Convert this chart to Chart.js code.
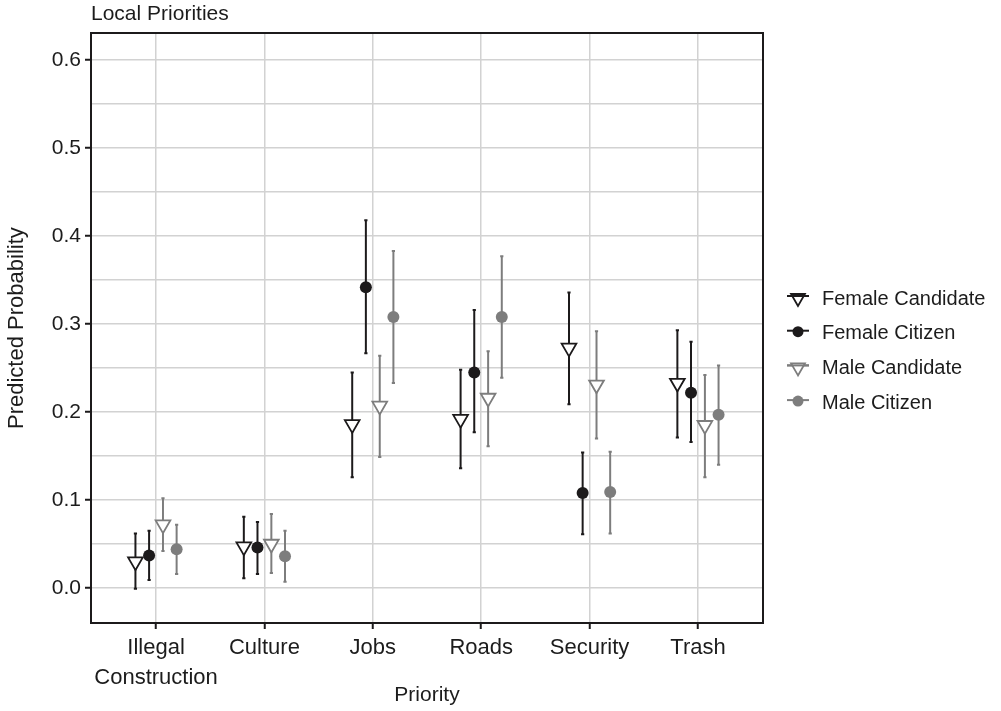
<!DOCTYPE html>
<html>
<head>
<meta charset="utf-8">
<script src="https://cdn.jsdelivr.net/npm/chart.js@4/dist/chart.umd.min.js"></script>
<style>
  html, body { margin: 0; padding: 0; background: #ffffff; }
  #wrap { width: 1001px; height: 711px; }
</style>
</head>
<body>
<div id="wrap"><canvas id="c" width="1001" height="711"></canvas></div>
<script>
// ---- data ----
const categories = [['Illegal', 'Construction'], 'Culture', 'Jobs', 'Roads', 'Security', 'Trash'];
const seriesNames = ['Female Candidate', 'Female Citizen', 'Male Candidate', 'Male Citizen'];

const femaleCandidate   = [0.030, 0.047, 0.186, 0.192, 0.273, 0.233];
const femaleCandidateLo = [-0.001, 0.011, 0.126, 0.136, 0.209, 0.171];
const femaleCandidateHi = [0.062, 0.081, 0.245, 0.248, 0.336, 0.293];

const femaleCitizen   = [0.037, 0.046, 0.342, 0.245, 0.108, 0.222];
const femaleCitizenLo = [0.009, 0.016, 0.267, 0.177, 0.061, 0.166];
const femaleCitizenHi = [0.065, 0.075, 0.418, 0.316, 0.154, 0.280];

const maleCandidate   = [0.072, 0.050, 0.207, 0.216, 0.231, 0.185];
const maleCandidateLo = [0.042, 0.017, 0.149, 0.161, 0.170, 0.126];
const maleCandidateHi = [0.102, 0.084, 0.264, 0.269, 0.292, 0.242];

const maleCitizen   = [0.044, 0.036, 0.308, 0.308, 0.109, 0.197];
const maleCitizenLo = [0.016, 0.007, 0.233, 0.239, 0.062, 0.140];
const maleCitizenHi = [0.072, 0.065, 0.383, 0.377, 0.155, 0.253];

const yTickValues = [0.0, 0.1, 0.2, 0.3, 0.4, 0.5, 0.6];
const yTickLabels = ['0.0', '0.1', '0.2', '0.3', '0.4', '0.5', '0.6'];
const yMinorValues = [0.05, 0.15, 0.25, 0.35, 0.45, 0.55];

// ---- styling ----
const FONT = "'Liberation Sans', Arial, Helvetica, sans-serif";
const INK = '#1c1c1c';
const BLACK = '#1c1a1b';
const GREY = '#7d7d7d';
const GRID = '#d2d2d2';
const dodge = [-0.19, -0.064, 0.064, 0.19];

function points(vals, k) {
  return vals.map((v, i) => ({ x: i + 1 + dodge[k], y: v }));
}
function ranges(lo, hi, k) {
  const out = [];
  lo.forEach((l, i) => {
    const x = i + 1 + dodge[k];
    out.push({ x: x, y: l }, { x: x, y: hi[i] }, { x: x, y: null });
  });
  return out;
}

const styles = [
  { color: BLACK, shape: 'triangle' },
  { color: BLACK, shape: 'circle' },
  { color: GREY, shape: 'triangle' },
  { color: GREY, shape: 'circle' }
];
const values = [femaleCandidate, femaleCitizen, maleCandidate, maleCitizen];
const lows = [femaleCandidateLo, femaleCitizenLo, maleCandidateLo, maleCitizenLo];
const highs = [femaleCandidateHi, femaleCitizenHi, maleCandidateHi, maleCitizenHi];

function drawKey(g, st, cx, cy) {
  g.save();
  g.strokeStyle = st.color; g.lineWidth = 2;
  const line = () => { g.beginPath(); g.moveTo(cx - 11, cy - 2); g.lineTo(cx + 11, cy - 2); g.stroke(); };
  line();
  if (st.shape === 'triangle') {
    const r = 8, ty = cy;
    g.fillStyle = '#fff'; g.lineWidth = 1.8;
    g.beginPath();
    g.moveTo(cx, ty + r);
    g.lineTo(cx - r * Math.sin(Math.PI / 3), ty - r / 2);
    g.lineTo(cx + r * Math.sin(Math.PI / 3), ty - r / 2);
    g.closePath(); g.fill(); g.stroke();
    g.lineWidth = 2; line();
  } else {
    g.fillStyle = st.color;
    g.beginPath(); g.arc(cx, cy - 1, 5.5, 0, Math.PI * 2); g.fill();
  }
  g.restore();
}

const keyLegend = {
  id: 'keyLegend',
  afterDraw(chart) {
    const g = chart.ctx;
    const a = chart.chartArea;
    const sx = a.right + 35, tx = a.right + 59;
    const y0 = 298, step = 34.7;
    g.save();
    g.font = '20px ' + FONT;
    g.fillStyle = INK;
    g.textBaseline = 'middle';
    g.textAlign = 'left';
    seriesNames.forEach((n, k) => {
      const y = y0 + k * step;
      drawKey(g, styles[k], sx, y);
      g.fillText(n, tx, y + 1);
    });
    g.restore();
  }
};

const datasets = [];
values.forEach((vals, k) => {
  const st = styles[k];
  datasets.push({
    type: 'scatter',
    label: seriesNames[k],
    data: points(vals, k),
    pointStyle: st.shape,
    rotation: st.shape === 'triangle' ? 180 : 0,
    pointRadius: st.shape === 'triangle' ? 8.5 : 6,
    pointBackgroundColor: st.shape === 'triangle' ? '#ffffff' : st.color,
    pointBorderColor: st.color,
    pointBorderWidth: st.shape === 'triangle' ? 1.8 : 0,
    order: 0
  });
});
values.forEach((vals, k) => {
  const st = styles[k];
  datasets.push({
    type: 'line',
    label: seriesNames[k] + ' interval',
    data: ranges(lows[k], highs[k], k),
    borderColor: st.color,
    borderWidth: 2,
    fill: false,
    spanGaps: false,
    pointStyle: 'line',
    pointRadius: 1.6,
    pointBorderWidth: 2,
    pointBorderColor: st.color,
    order: 1
  });
});

const isMajor = v => yTickValues.some(t => Math.abs(t - v) < 1e-9);

new Chart(document.getElementById('c'), {
  data: { datasets: datasets },
  plugins: [keyLegend],
  options: {
    responsive: false,
    animation: false,
    devicePixelRatio: 1,
    events: [],
    layout: { padding: { left: 0, right: 238, top: 0, bottom: 0 } },
    plugins: {
      tooltip: { enabled: false },
      legend: { display: false },
      title: {
        display: true,
        text: 'Local Priorities',
        align: 'start',
        fullSize: false,
        color: INK,
        font: { family: FONT, size: 21, weight: 'normal' },
        padding: { top: 2, bottom: 6 }
      }
    },
    scales: {
      x: {
        type: 'linear',
        position: 'bottom',
        min: 0.4,
        max: 6.6,
        afterBuildTicks: (s) => { s.ticks = categories.map((c, i) => ({ value: i + 1 })); },
        afterFit: (s) => { s.height = 88; },
        ticks: {
          color: INK,
          font: { family: FONT, size: 22, lineHeight: 1.36 },
          padding: 4,
          maxRotation: 0,
          autoSkip: false,
          callback: (v) => categories[Math.round(v) - 1]
        },
        grid: { color: GRID, lineWidth: 1.5, tickColor: BLACK, tickLength: 6, tickWidth: 2 },
        border: { display: true, color: BLACK, width: 2 },
        title: {
          display: true, text: 'Priority', color: INK,
          font: { family: FONT, size: 21 }, padding: { top: 0, bottom: 3 }
        }
      },
      x2: {
        type: 'linear',
        position: 'top',
        min: 0.4,
        max: 6.6,
        ticks: { display: false },
        grid: { display: false, drawTicks: false },
        border: { display: true, color: BLACK, width: 2 },
        afterFit: (s) => { s.height = 0; }
      },
      y: {
        type: 'linear',
        position: 'left',
        min: -0.0398,
        max: 0.6307,
        afterBuildTicks: (s) => {
          s.ticks = yTickValues.concat(yMinorValues).sort((a, b) => a - b).map(v => ({ value: v }));
        },
        afterFit: (s) => { s.width = 91; },
        ticks: {
          color: INK,
          font: { family: FONT, size: 21 },
          padding: 4,
          autoSkip: false,
          callback: (v) => {
            const i = yTickValues.findIndex(t => Math.abs(t - v) < 1e-9);
            return i >= 0 ? yTickLabels[i] : '';
          }
        },
        grid: {
          color: GRID, lineWidth: 1.5, tickLength: 6, tickWidth: 2,
          tickColor: (ctx) => (ctx.tick && isMajor(ctx.tick.value)) ? BLACK : 'rgba(0,0,0,0)'
        },
        border: { display: true, color: BLACK, width: 2 },
        title: {
          display: true, text: 'Predicted Probability', color: INK,
          font: { family: FONT, size: 22 }, padding: { top: 4, bottom: 0 }
        }
      },
      y2: {
        type: 'linear',
        position: 'right',
        min: -0.0398,
        max: 0.6307,
        ticks: { display: false },
        grid: { display: false, drawTicks: false },
        border: { display: true, color: BLACK, width: 2 },
        afterFit: (s) => { s.width = 0; }
      }
    }
  }
});
</script>
</body>
</html>
